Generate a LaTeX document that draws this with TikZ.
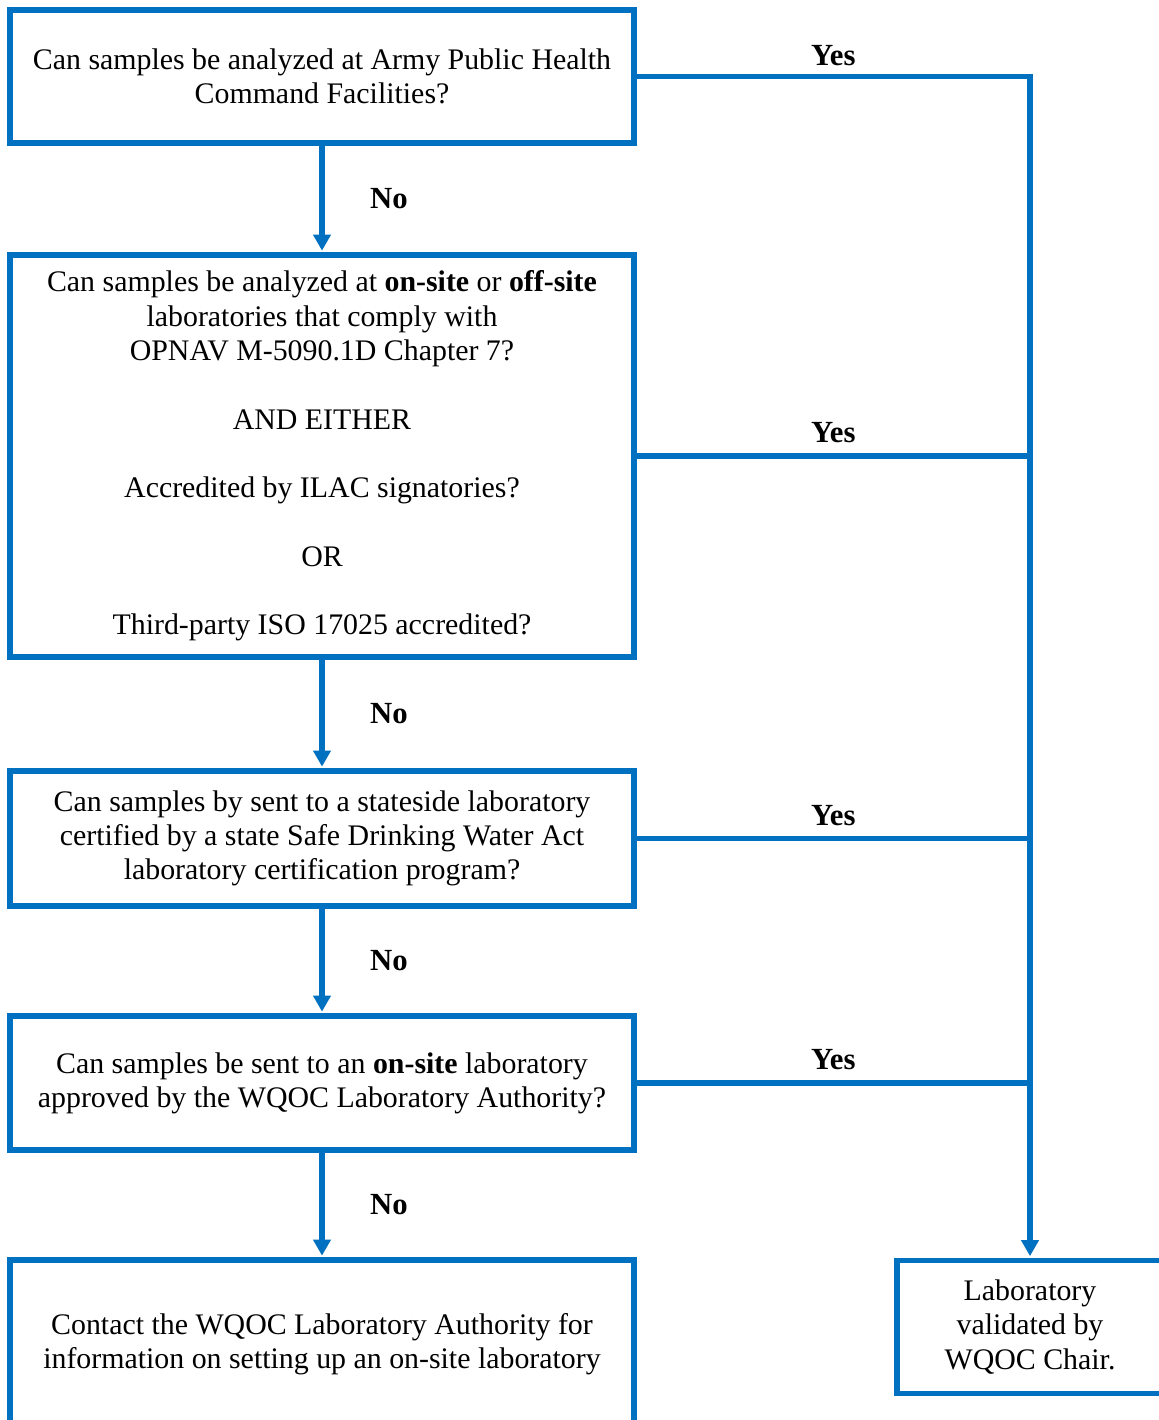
\documentclass[tikz,border=0pt]{standalone}
\usepackage{fontspec}
\setmainfont{Liberation Serif}
\usetikzlibrary{arrows.meta}
\definecolor{fblue}{RGB}{0,112,192}
\begin{document}
\begin{tikzpicture}[x=0.02cm,y=-0.02cm,
  box/.style={draw=fblue, line width=3pt, align=center, inner sep=0pt,
    font=\fontsize{17}{19.5}\selectfont, minimum width=12.48cm},
  conn/.style={draw=fblue, line width=3pt},
  arr/.style={conn, -{Triangle[width=0.34cm,length=0.32cm]}, shorten >=1pt},
  lbl/.style={font=\fontsize{17.5}{19.5}\selectfont\bfseries}]
\useasboundingbox (0,0) rectangle (1159,1420);
\clip (0,0) rectangle (1159,1420);
\node[box, minimum height=2.66cm] (b1) at (322,76.5)
  {Can samples be analyzed at Army Public Health\\Command Facilities?};
\node[box, minimum height=8.04cm] (b2) at (322,456)
  {Can samples be analyzed at \textbf{on-site} or \textbf{off-site}\\
   laboratories that comply with\\
   OPNAV M-5090.1D Chapter 7?\\[19.5pt]
   AND EITHER\\[19.5pt]
   Accredited by ILAC signatories?\\[19.5pt]
   OR\\[19.5pt]
   Third-party ISO 17025 accredited?};
\node[box, minimum height=2.7cm] (b3) at (322,838.5)
  {Can samples by sent to a stateside laboratory\\
   certified by a state Safe Drinking Water Act\\
   laboratory certification program?};
\node[box, minimum height=2.68cm] (b4) at (322,1083)
  {Can samples be sent to an \textbf{on-site} laboratory\\
   approved by the WQOC Laboratory Authority?};
\node[box, minimum height=3.36cm] (b5) at (322,1344)
  {Contact the WQOC Laboratory Authority for\\
   information on setting up an on-site laboratory};
\node[box, minimum width=5.32cm, minimum height=2.66cm] (b6) at (1030,1327)
  {Laboratory\\validated by\\WQOC Chair.};
% No arrows
\draw[arr] (b1.south) -- node[lbl, midway, xshift=1.34cm] {No} (b2.north);
\draw[arr] (b2.south) -- node[lbl, midway, xshift=1.34cm] {No} (b3.north);
\draw[arr] (b3.south) -- node[lbl, midway, xshift=1.34cm] {No} (b4.north);
\draw[arr] (b4.south) -- node[lbl, midway, xshift=1.34cm] {No} (b5.north);
% Yes lines
\coordinate (t1) at (b1.east -| b6.north);
\draw[conn] (b1.east) -- node[lbl, midway, yshift=0.42cm] {Yes} (t1);
\draw[conn] (b2.east) -- node[lbl, midway, yshift=0.46cm] {Yes} (b2.east -| b6.north);
\draw[conn] (b3.east) -- node[lbl, midway, yshift=0.46cm] {Yes} (b3.east -| b6.north);
\draw[conn] (b4.east) -- node[lbl, midway, yshift=0.46cm] {Yes} (b4.east -| b6.north);
\draw[arr] ([yshift=1.5pt]t1) -- (b6.north);
\end{tikzpicture}
\end{document}
